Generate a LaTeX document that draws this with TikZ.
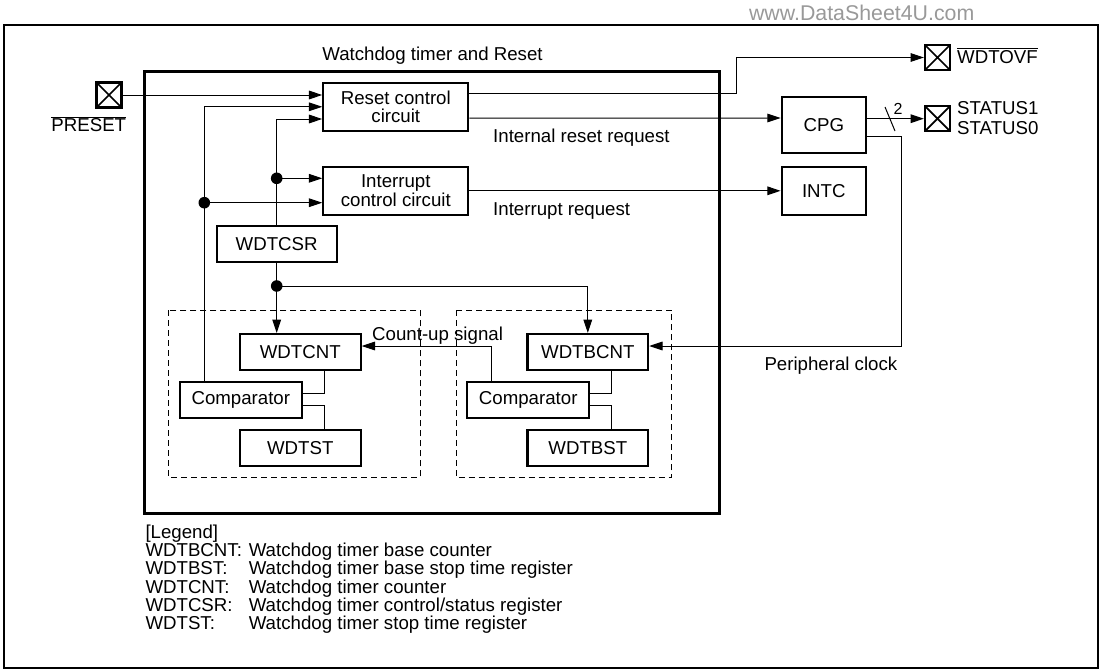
\documentclass[tikz,border=0pt]{standalone}
\usepackage{fontspec}
\setmainfont{Liberation Sans}
\usetikzlibrary{arrows.meta,calc}

\newcommand{\dgfont}{\fontsize{14pt}{13.7pt}\selectfont}

\tikzset{every picture/.style={line width=0.75pt}}
\tikzset{
  blk/.style={draw, line width=1.6pt, inner sep=0pt, align=center, font=\dgfont},
  pin/.style={draw, line width=1.7pt, minimum size=18.75pt, inner sep=0pt,
    path picture={\draw[line width=1.3pt] (path picture bounding box.north west) -- (path picture bounding box.south east)
      (path picture bounding box.north east) -- (path picture bounding box.south west);}},
  lbl/.style={inner sep=0pt, font=\dgfont},
  arr/.style={-{Triangle[length=10pt,width=6.5pt]}},
  jdot/.style={circle, fill, inner sep=0pt, minimum size=8.7pt},
}

\begin{document}
\begin{tikzpicture}[x=0.75pt,y=0.75pt,yscale=-1,xscale=1]
\useasboundingbox (0,0) rectangle (1103,671);

% Frames
\draw[line width=1.5pt] (4,25) rectangle (1098.3,668);
\draw[line width=2pt] (144.3,71.7) rectangle (719.3,513.3);
\draw[dash pattern={on 4.5pt off 3pt}] (168.3,310) rectangle (420,477.3);
\draw[dash pattern={on 4.5pt off 3pt}] (456,310) rectangle (671.7,477.3);

% Blocks
\node[blk, minimum width=108.75pt, minimum height=36.2pt] (rescirc) at (395.8,106.8) {Reset control\\circuit};
\node[blk, minimum width=108.75pt, minimum height=36.2pt] (intcirc) at (395.8,190.8) {Interrupt\\control circuit};
\node[blk, minimum width=90pt, minimum height=26.8pt] (wdtcsr) at (276.7,243.8) {WDTCSR};
\node[blk, minimum width=63.2pt, minimum height=42pt] (cpg) at (823.8,125.3) {CPG};
\node[blk, minimum width=63.2pt, minimum height=36.2pt] (intc) at (823.8,190.8) {INTC};
\node[blk, minimum width=90.5pt, minimum height=27pt] (wdtcnt) at (300.3,352) {WDTCNT};
\node[blk, minimum width=91.3pt, minimum height=27pt] (cmpa) at (240.8,399.7) {Comparator};
\node[blk, minimum width=90.5pt, minimum height=27pt] (wdtst) at (300.3,447.8) {WDTST};
\node[blk, minimum width=90.5pt, minimum height=27pt] (wdtbcnt) at (587.8,352) {WDTBCNT};
\node[blk, minimum width=91.3pt, minimum height=27pt] (cmpb) at (528.2,399.7) {Comparator};
\node[blk, minimum width=90.5pt, minimum height=27pt] (wdtbst) at (587.8,447.8) {WDTBST};

% Pins
\node[pin] (pinpreset) at (109,95) {};
\node[pin] (pinovf) at (937.5,57.5) {};
\node[pin] (pinstatus) at (937.5,118.7) {};

% Junctions and bends
\coordinate (ja) at (204.3,202.7);
\coordinate (jb) at (276.7,178.3);
\coordinate (jc) at (276.7,286);
\coordinate (cup) at (491.7,346);
\coordinate (pclk) at (901.7,346);

% Inputs of reset and interrupt control
\draw[arr] (pinpreset.east) -- (pinpreset.east -| rescirc.west);
\draw[arr] (ja |- cmpa.north) -- (ja) |- (rescirc.west);
\draw[arr] (wdtcsr.north) |- ($(rescirc.west)+(0,12.2)$);
\draw[arr] (ja) -- (ja -| intcirc.west);
\draw[arr] (jb) -- (jb -| intcirc.west);
\node[jdot] (dota) at (ja) {};
\node[jdot] (dotb) at (jb) {};

% Outputs
\draw[arr] ($(rescirc.east)+(0,-13.5)$) -- ++(266.7,0) |- (pinovf.west);
\draw[arr] ($(rescirc.east)+(0,11.2)$) -- ($(cpg.west)+(0,-7.3)$);
\draw[arr] (intcirc.east) -- (intc.west);
\draw[arr] (cpg.east |- pinstatus.west) -- (pinstatus.west);
\draw (885,107) -- (895,131);
\draw[arr] ($(cpg.east)+(0,11.4)$) -| (pclk) -- (pclk -| wdtbcnt.east);

% Counters
\draw[arr] (wdtcsr.south) -- (wdtcsr.south |- wdtcnt.north);
\draw[arr] (jc) -| (wdtbcnt.north);
\node[jdot] (dotc) at (jc) {};
\draw[arr] (cup |- cmpb.north) -- (cup) -- (cup -| wdtcnt.east);
\draw ($(wdtcnt.south)+(23.7,0)$) |- ($(cmpa.east)+(0,-6.4)$);
\draw ($(cmpa.east)+(0,6)$) -| ($(wdtst.north)+(23.7,0)$);
\draw ($(wdtbcnt.south)+(23.9,0)$) |- ($(cmpb.east)+(0,-6.4)$);
\draw ($(cmpb.east)+(0,5.3)$) -| ($(wdtbst.north)+(23.9,0)$);

% Text Nodes
\node[lbl, anchor=base, text=black!40, font=\fontsize{16pt}{16pt}\selectfont] (wmark) at (861.7,20) {www.DataSheet4U.com};
\node[lbl, anchor=base] (title) at (432.5,60) {Watchdog timer and Reset};
\node[lbl, anchor=base] (presetlbl) at (88.8,131.7) {$\overline{\mbox{PRESET}}$};
\node[lbl, anchor=base west] (ovflbl) at (956.7,63.3) {$\overline{\mbox{WDTOVF}}$};
\node[lbl, anchor=base west] (stat1) at (956.7,114.5) {STATUS1};
\node[lbl, anchor=base west] (stat0) at (956.7,134) {STATUS0};
\node[lbl, anchor=base, font=\fontsize{12pt}{12pt}\selectfont] (buswidth) at (898,114) {2};
\node[lbl, anchor=base west] (rstreq) at (492.7,142.5) {Internal reset request};
\node[lbl, anchor=base west] (intreq) at (492.7,215.8) {Interrupt request};
\node[lbl, anchor=base west] (cntup) at (371.7,340.5) {Count-up signal};
\node[lbl, anchor=base west] (perclk) at (764,370.5) {Peripheral clock};

% Legend
\node[lbl, anchor=base west] (leg) at (145,538) {[Legend]};
\node[lbl, anchor=base west] (leg1) at (145,556.5) {WDTBCNT:};
\node[lbl, anchor=base west] (leg2) at (145,574.8) {WDTBST:};
\node[lbl, anchor=base west] (leg3) at (145,593.2) {WDTCNT:};
\node[lbl, anchor=base west] (leg4) at (145,611.5) {WDTCSR:};
\node[lbl, anchor=base west] (leg5) at (145,629.8) {WDTST:};
\node[lbl, anchor=base west] (desc1) at (248.3,556.5) {Watchdog timer base counter};
\node[lbl, anchor=base west] (desc2) at (248.3,574.8) {Watchdog timer base stop time register};
\node[lbl, anchor=base west] (desc3) at (248.3,593.2) {Watchdog timer counter};
\node[lbl, anchor=base west] (desc4) at (248.3,611.5) {Watchdog timer control/status register};
\node[lbl, anchor=base west] (desc5) at (248.3,629.8) {Watchdog timer stop time register};
\end{tikzpicture}
\end{document}
